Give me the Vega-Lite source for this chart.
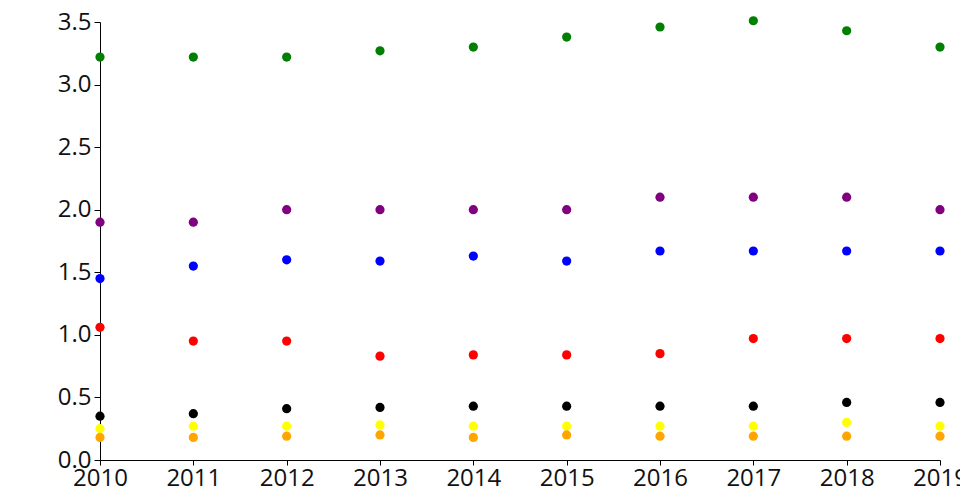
{
  "$schema": "https://vega.github.io/schema/vega-lite/v6.json",
  "autosize": {"type": "none"},
  "width": 840,
  "height": 438,
  "padding": {"left": 100, "top": 22, "right": 20, "bottom": 40},
  "background": "white",
  "config": {"view": {"stroke": null}, "font": "Open Sans"},
  "data": {"values": [
    {"year": 2010, "series": "green", "value": 3.22},
    {"year": 2011, "series": "green", "value": 3.22},
    {"year": 2012, "series": "green", "value": 3.22},
    {"year": 2013, "series": "green", "value": 3.27},
    {"year": 2014, "series": "green", "value": 3.30},
    {"year": 2015, "series": "green", "value": 3.38},
    {"year": 2016, "series": "green", "value": 3.46},
    {"year": 2017, "series": "green", "value": 3.51},
    {"year": 2018, "series": "green", "value": 3.43},
    {"year": 2019, "series": "green", "value": 3.30},
    {"year": 2010, "series": "purple", "value": 1.9},
    {"year": 2011, "series": "purple", "value": 1.9},
    {"year": 2012, "series": "purple", "value": 2.0},
    {"year": 2013, "series": "purple", "value": 2.0},
    {"year": 2014, "series": "purple", "value": 2.0},
    {"year": 2015, "series": "purple", "value": 2.0},
    {"year": 2016, "series": "purple", "value": 2.1},
    {"year": 2017, "series": "purple", "value": 2.1},
    {"year": 2018, "series": "purple", "value": 2.1},
    {"year": 2019, "series": "purple", "value": 2.0},
    {"year": 2010, "series": "blue", "value": 1.45},
    {"year": 2011, "series": "blue", "value": 1.55},
    {"year": 2012, "series": "blue", "value": 1.6},
    {"year": 2013, "series": "blue", "value": 1.59},
    {"year": 2014, "series": "blue", "value": 1.63},
    {"year": 2015, "series": "blue", "value": 1.59},
    {"year": 2016, "series": "blue", "value": 1.67},
    {"year": 2017, "series": "blue", "value": 1.67},
    {"year": 2018, "series": "blue", "value": 1.67},
    {"year": 2019, "series": "blue", "value": 1.67},
    {"year": 2010, "series": "red", "value": 1.06},
    {"year": 2011, "series": "red", "value": 0.95},
    {"year": 2012, "series": "red", "value": 0.95},
    {"year": 2013, "series": "red", "value": 0.83},
    {"year": 2014, "series": "red", "value": 0.84},
    {"year": 2015, "series": "red", "value": 0.84},
    {"year": 2016, "series": "red", "value": 0.85},
    {"year": 2017, "series": "red", "value": 0.97},
    {"year": 2018, "series": "red", "value": 0.97},
    {"year": 2019, "series": "red", "value": 0.97},
    {"year": 2010, "series": "black", "value": 0.35},
    {"year": 2011, "series": "black", "value": 0.37},
    {"year": 2012, "series": "black", "value": 0.41},
    {"year": 2013, "series": "black", "value": 0.42},
    {"year": 2014, "series": "black", "value": 0.43},
    {"year": 2015, "series": "black", "value": 0.43},
    {"year": 2016, "series": "black", "value": 0.43},
    {"year": 2017, "series": "black", "value": 0.43},
    {"year": 2018, "series": "black", "value": 0.46},
    {"year": 2019, "series": "black", "value": 0.46},
    {"year": 2010, "series": "yellow", "value": 0.25},
    {"year": 2011, "series": "yellow", "value": 0.27},
    {"year": 2012, "series": "yellow", "value": 0.27},
    {"year": 2013, "series": "yellow", "value": 0.28},
    {"year": 2014, "series": "yellow", "value": 0.27},
    {"year": 2015, "series": "yellow", "value": 0.27},
    {"year": 2016, "series": "yellow", "value": 0.27},
    {"year": 2017, "series": "yellow", "value": 0.27},
    {"year": 2018, "series": "yellow", "value": 0.30},
    {"year": 2019, "series": "yellow", "value": 0.27},
    {"year": 2010, "series": "orange", "value": 0.18},
    {"year": 2011, "series": "orange", "value": 0.18},
    {"year": 2012, "series": "orange", "value": 0.19},
    {"year": 2013, "series": "orange", "value": 0.20},
    {"year": 2014, "series": "orange", "value": 0.18},
    {"year": 2015, "series": "orange", "value": 0.20},
    {"year": 2016, "series": "orange", "value": 0.19},
    {"year": 2017, "series": "orange", "value": 0.19},
    {"year": 2018, "series": "orange", "value": 0.19},
    {"year": 2019, "series": "orange", "value": 0.19}
  ]},
  "mark": {"type": "circle", "size": 85, "opacity": 1},
  "encoding": {
    "x": {
      "field": "year", "type": "quantitative",
      "scale": {"domain": [2010, 2019], "nice": false, "zero": false},
      "axis": {
        "title": null, "format": "d", "values": [2010, 2011, 2012, 2013, 2014, 2015, 2016, 2017, 2018, 2019],
        "grid": false, "domainColor": "black", "tickColor": "black", "tickSize": 5,
        "labelFontSize": 24, "labelColor": "#111", "labelPadding": 1, "labelFlush": false, "labelOverlap": false,
        "labelFont": "Open Sans"
      }
    },
    "y": {
      "field": "value", "type": "quantitative",
      "scale": {"domain": [0, 3.5], "nice": false},
      "axis": {
        "title": null, "format": ".1f", "values": [0, 0.5, 1, 1.5, 2, 2.5, 3, 3.5],
        "grid": false, "domainColor": "black", "tickColor": "black", "tickSize": 6,
        "labelFontSize": 24, "labelColor": "#111", "labelPadding": 3, "labelFlush": false, "labelOverlap": false,
        "labelFont": "Open Sans"
      }
    },
    "color": {
      "field": "series", "type": "nominal",
      "scale": {
        "domain": ["green", "purple", "blue", "red", "black", "yellow", "orange"],
        "range": ["#008000", "#800080", "#0000ff", "#ff0000", "#000000", "#ffff00", "#ffa500"]
      },
      "legend": null
    }
  }
}
